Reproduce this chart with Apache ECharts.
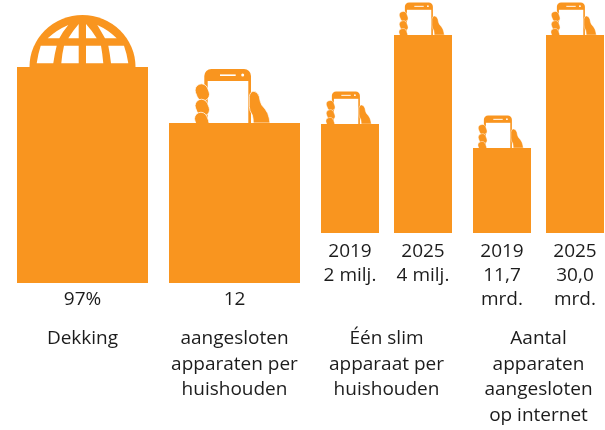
<!DOCTYPE html>
<html>
<head>
<meta charset="utf-8">
<style>html,body{margin:0;padding:0;background:#fff}#c{width:605px;height:430px}</style>
<script src="https://cdn.jsdelivr.net/npm/echarts@6/dist/echarts.min.js"></script>
</head>
<body>
<div id="c"></div>
<script>
// Category labels (the printed values) per panel
const dekkingLabels = ['97%'];
const huishoudenLabels = ['12'];
const slimLabels = ['2019\n2 milj.', '2025\n4 milj.'];
const internetLabels = ['2019\n11,7\nmrd.', '2025\n30,0\nmrd.'];
// Bar heights as drawn in the picture (it is not to scale)
const dekkingHeights = [216];
const huishoudenHeights = [160];
const slimHeights = [109, 198];
const internetHeights = [85, 198];
// Panel captions
const panelTitles = ['Dekking', 'aangesloten\napparaten per\nhuishouden', 'Één slim\napparaat per\nhuishouden', 'Aantal\napparaten\naangesloten\nop internet'];

const ORANGE = '#F9951F', TEXT = '#1c1c1c', FONT = 'Open Sans';
const chart = echarts.init(document.getElementById('c'), null, {renderer: 'canvas'});

const globeRing = 'M-53,0 A53,52 0 0 1 53,0 Z';
const globeCells = 'M-34.8,-28.7 Q-26,-37 -14.2,-42 Q-20,-35 -23.2,-28.7 Z'
  + ' M-14.2,-28.7 Q-9,-37 -3.8,-43 L-3.8,-28.7 Z'
  + ' M3.5,-43 Q9,-37 14.2,-28.7 L3.5,-28.7 Z'
  + ' M14.8,-42 Q26,-37 34.2,-28.7 L22.5,-28.7 Q19,-35 14.8,-42 Z'
  + ' M-41.8,-21.3 L-25.8,-21.3 Q-28,-13 -29.2,-3.7 L-45.8,-3.7 Q-44.5,-13 -41.8,-21.3 Z'
  + ' M-18.5,-21.3 L-3.8,-21.3 L-3.8,-3.7 L-21.2,-3.7 Q-20.5,-13 -18.5,-21.3 Z'
  + ' M3.5,-21.3 L18.5,-21.3 Q20,-13 20.8,-3.7 L3.5,-3.7 Z'
  + ' M25.8,-21.3 L41.5,-21.3 Q44.5,-13 45.8,-3.7 L28.5,-3.7 Q27.5,-13 25.8,-21.3 Z';
const thumb = 'M14.8,-26.3 Q15.5,-31.7 19.5,-31.7 Q23.5,-31 24.8,-26.3 Q25.5,-21 27.2,-18 Q31,-14 33.2,-9.7 Q35,-5 35.5,0 L18.8,0 Q18.8,-5 17.8,-8 Q14.8,-12 14.8,-16.7 Z';

function globeItem(params, api) {
  const p = api.coord([api.value(0), api.value(1)]);
  return {type: 'group', x: p[0], y: p[1], silent: true, children: [
    {type: 'path', shape: {pathData: globeRing, layout: 'center', x: -53, y: -52, width: 106, height: 52}, style: {fill: ORANGE}},
    {type: 'path', shape: {pathData: globeCells, layout: 'center', x: -45.8, y: -43, width: 91.6, height: 39.3}, style: {fill: '#fff'}}
  ]};
}
function finger(x, y) {
  return {type: 'rect', x: x, y: y, rotation: 0.38, shape: {x: -6.4, y: -8.6, width: 12.8, height: 17.2, r: 6.4},
    style: {fill: ORANGE, stroke: '#fff', lineWidth: 0.7}};
}
function phoneItem(scale) {
  return function (params, api) {
    const p = api.coord([api.value(0), api.value(1)]);
    return {type: 'group', x: p[0], y: p[1], scaleX: scale, scaleY: scale, silent: true, children: [
      {type: 'rect', shape: {x: -30.2, y: -54, width: 46.7, height: 54, r: [7, 7, 0, 0]}, style: {fill: ORANGE}},
      {type: 'rect', shape: {x: -26.8, y: -42, width: 40.6, height: 42}, style: {fill: '#fff'}},
      {type: 'rect', shape: {x: -14.5, y: -48.6, width: 15.7, height: 1.6}, style: {fill: '#fff'}},
      {type: 'circle', shape: {cx: 8.2, cy: -48, r: 1.5}, style: {fill: '#fff'}},
      {type: 'path', shape: {pathData: thumb, layout: 'center', x: 14.8, y: -31.7, width: 20.7, height: 31.7}, style: {fill: ORANGE, stroke: '#fff', lineWidth: 0.7}},
      finger(-32.2, -30.7), finger(-32.2, -15.3), finger(-32.8, -2.3)
    ]};
  };
}

const panels = [
  {left: 17, width: 131, bottom: 283, labels: dekkingLabels, heights: dekkingHeights, item: globeItem, bar: 131, gap: 43, margin: 5},
  {left: 169, width: 131, bottom: 283, labels: huishoudenLabels, heights: huishoudenHeights, item: phoneItem(1), bar: 131, gap: 43, margin: 5},
  {left: 313.5, width: 146, bottom: 233, labels: slimLabels, heights: slimHeights, item: phoneItem(0.6), bar: 58, gap: 93, margin: 7},
  {left: 465.5, width: 146, bottom: 233, labels: internetLabels, heights: internetHeights, item: phoneItem(0.6), bar: 58, gap: 93, margin: 7}
];

const option = {
  animation: false,
  backgroundColor: '#fff',
  grid: panels.map(p => ({left: p.left, width: p.width, top: 0, height: p.bottom, containLabel: false, outerBoundsMode: 'none'})),
  xAxis: panels.map((p, i) => ({
    type: 'category', gridIndex: i, data: p.labels,
    axisLine: {show: false}, axisTick: {show: false},
    axisLabel: {interval: 0, margin: p.margin, color: TEXT, fontFamily: FONT, fontSize: 19, lineHeight: 24},
    name: panelTitles[i], nameLocation: 'center', nameGap: p.gap,
    nameTextStyle: {color: TEXT, fontFamily: FONT, fontSize: 19, lineHeight: 25.5, align: 'center', verticalAlign: 'top'}
  })),
  yAxis: panels.map((p, i) => ({type: 'value', gridIndex: i, min: 0, max: p.bottom, show: false})),
  series: panels.flatMap((p, i) => [
    {type: 'custom', xAxisIndex: i, yAxisIndex: i, clip: false, z: 1, renderItem: p.item,
     data: p.heights.map((h, k) => [k, h])},
    {type: 'bar', xAxisIndex: i, yAxisIndex: i, z: 3, barWidth: p.bar, data: p.heights,
     itemStyle: {color: ORANGE}, silent: true}
  ])
};
chart.setOption(option);
</script>
</body>
</html>
